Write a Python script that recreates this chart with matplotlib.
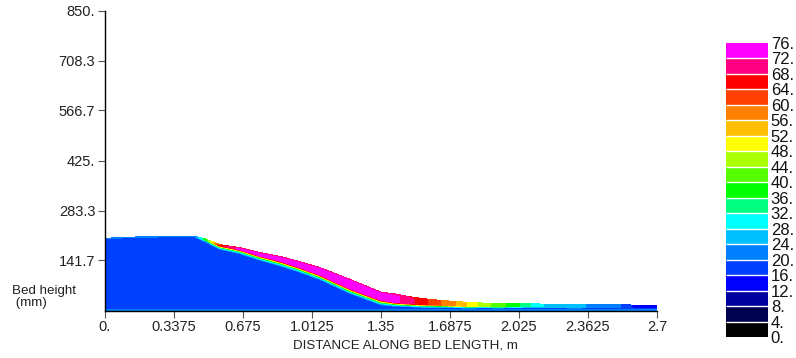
import numpy as np
import matplotlib.pyplot as plt
from matplotlib.colors import ListedColormap, BoundaryNorm

# stations along the bed (m) and bed surface height (mm)
x_m = [0.00, 0.04, 0.13, 0.28, 0.44, 0.49, 0.56, 0.66, 0.76, 0.86, 0.95, 1.05, 1.20, 1.35, 1.42,
       1.48, 1.55, 1.62, 1.70, 1.78, 1.85, 1.92, 2.00, 2.08, 2.16, 2.30, 2.45, 2.56, 2.58, 2.70]
surf_mm = [204, 206, 208, 210, 210, 203, 187, 178, 164, 153, 139, 122, 88, 52, 47,
           40, 34, 30, 26, 23, 21, 20, 19, 19, 18, 17, 17, 17, 14, 14]
# thickness of the wet top layer and of the transition band under it (mm)
layer_mm = [3, 3, 3, 3, 3, 2, 3, 5, 9, 13, 16, 20, 26, 22, 24,
            20, 17, 14, 12, 11, 9, 9, 8, 8, 8, 8, 8, 8, 6, 6]
band_mm = [1, 1, 1, 1, 1, 8, 11, 13, 14, 15, 15, 15, 15, 15, 12,
           10, 9, 8, 7, 6, 5, 5, 4, 4, 4, 4, 4, 4, 4, 4]
# value inside the top layer and right at the surface
peak_val = [18, 18, 18, 18, 18, 38, 66, 74, 74.5, 74.5, 74.5, 74.5, 74.5, 74.5, 73,
            70, 66, 61, 57, 51, 46, 42, 38, 32, 27, 25, 22, 19, 15, 14]
rim_val = [22, 22, 22, 22, 22, 36, 62, 69, 69, 69, 69, 69, 69, 69, 69,
           68, 66, 61, 57, 51, 46, 42, 38, 32, 27, 25, 22, 19, 15, 14]
base_val = 18
bottom_val = 23

levels = np.arange(0, 80, 4)
colors = ['#000000', '#000050', '#0000A0', '#0000FF', '#0040FF', '#0080FF', '#00BFFF',
          '#00FFFF', '#00FF80', '#00FF00', '#55FF00', '#AAFF00', '#FFFF00', '#FFBF00',
          '#FF8000', '#FF4000', '#FF0000', '#FF0080', '#FF00FF']
xticks = [0, 0.3375, 0.675, 1.0125, 1.35, 1.6875, 2.025, 2.3625, 2.7]
xticklabels = ['0.', '0.3375', '0.675', '1.0125', '1.35', '1.6875', '2.025', '2.3625', '2.7']
yticks = [141.7, 283.3, 425, 566.7, 708.3, 850]
yticklabels = ['141.7', '283.3', '425.', '566.7', '708.3', '850.']

# build columns of nodes through the bed depth
h = np.array(surf_mm, float)
t = np.array(layer_mm, float)
b = np.array(band_mm, float)
peak = np.array(peak_val, float)
rim_d = np.minimum(6.0, t)
Y = np.vstack([np.zeros_like(h), np.full_like(h, 3.0), h - t - b, h - t - 0.5 * b,
               h - t, h - rim_d, h])
n = Y.shape[0]
Y = np.maximum.accumulate(Y, axis=0) + np.arange(n)[:, None] * 1e-3
Y[-1] = h
# lower half of the band spans the cooler part of the range
mid = base_val + 0.3 * (peak - base_val)
Z = np.vstack([np.full_like(h, bottom_val), np.full_like(h, base_val), np.full_like(h, base_val),
               mid, peak, peak, np.array(rim_val, float)])
X = np.tile(np.array(x_m), (n, 1))

plt.rcParams['font.family'] = ['Liberation Sans', 'DejaVu Sans']
cmap = ListedColormap(colors)
norm = BoundaryNorm(levels, cmap.N)

fig = plt.figure(figsize=(7.96, 3.58), dpi=100)
ax = fig.add_axes([105 / 796, 47.5 / 358, 552 / 796, 300 / 358])
cs = ax.contourf(X, Y, Z, levels=levels, cmap=cmap, norm=norm)

ax.set_xlim(0, 2.7)
ax.set_ylim(0, 850)
ax.set_xticks(xticks)
ax.set_xticklabels(xticklabels)
ax.set_yticks(yticks)
ax.set_yticklabels(yticklabels)
ax.tick_params(labelsize=10.5, length=5, color='#555555', labelcolor='#222222', pad=2)
for s in ['top', 'right']:
    ax.spines[s].set_visible(False)
for s in ['left', 'bottom']:
    ax.spines[s].set_linewidth(1.0)

fig.text(405 / 796, 13 / 358, 'DISTANCE ALONG BED LENGTH, m', ha='center', va='center',
         fontsize=9.6, color='#222222')
fig.text(12 / 796, (358 - 285) / 358, 'Bed height\n (mm)', ha='left', va='top',
         fontsize=9.6, color='#222222', linespacing=0.95)

cax = fig.add_axes([726 / 796, 21 / 358, 42 / 796, 294 / 358])
cb = fig.colorbar(cs, cax=cax, drawedges=True)
cb.dividers.set_color('white')
cb.dividers.set_linewidth(1.0)
cb.outline.set_visible(False)
cb.set_ticks(levels)
cb.set_ticklabels([f'{v}.' for v in levels])
cax.tick_params(length=0, labelsize=12, pad=2, labelcolor='#111111')

plt.savefig('out.png', dpi=100)
